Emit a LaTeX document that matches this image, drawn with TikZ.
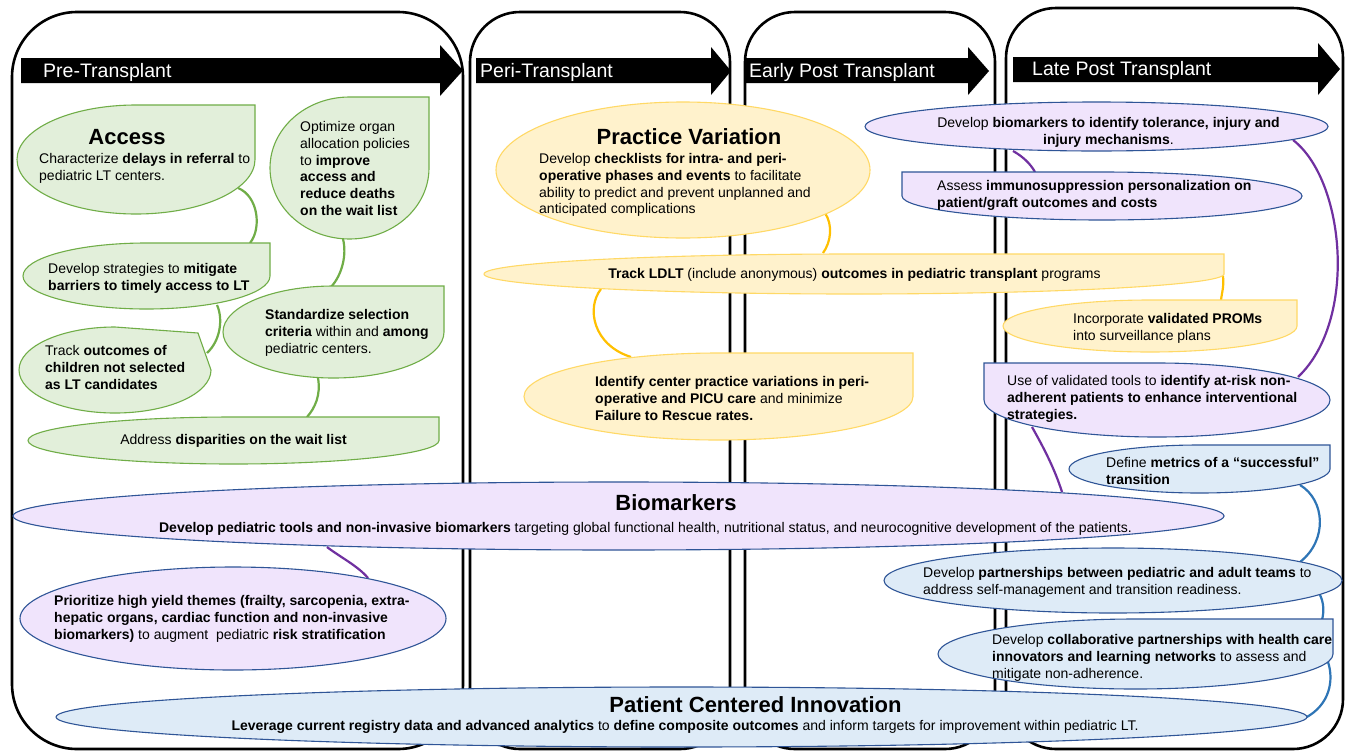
\documentclass[tikz,border=0pt]{standalone}
\usepackage{fontspec}
\setmainfont{Liberation Sans}
\definecolor{gfill}{HTML}{E2EFDA}
\definecolor{gline}{HTML}{70AD47}
\definecolor{yfill}{HTML}{FFF2CC}
\definecolor{yline}{HTML}{FFD966}
\definecolor{yconn}{HTML}{FFC000}
\definecolor{pfill}{HTML}{F0E4FC}
\definecolor{bline}{HTML}{2F5597}
\definecolor{pconn}{HTML}{7030A0}
\definecolor{bfill}{HTML}{DEEBF7}
\definecolor{bconn}{HTML}{2E75B6}
\newcommand\tstrut{\rule{0pt}{11pt}}
% teardrop with corner: style, cx, cy, rx, ry, corner
\newcommand\dropTR[6]{\path[#1] ({#2+#4},#3) arc[start angle=0,end angle=270,x radius=#4,y radius=#5] -- #6 -- cycle;}
\newcommand\dropTL[6]{\path[#1] ({#2-#4},#3) arc[start angle=180,end angle=-90,x radius=#4,y radius=#5] -- #6 -- cycle;}
\begin{document}
\begin{tikzpicture}[x=1pt,y=1pt,yscale=-1,
  panel/.style={draw=black,line width=2.6pt,rounded corners=50pt,fill=white},
  blockarrow/.style={fill=black,draw=none},
  arrowlabel/.style={text=white,font=\fontsize{19.5}{23}\selectfont,inner sep=0,anchor=base west},
  gshape/.style={fill=gfill,draw=gline,line width=1.1pt},
  yshape/.style={fill=yfill,draw=yline,line width=1.1pt},
  pshape/.style={fill=pfill,draw=bline,line width=1.1pt},
  bshape/.style={fill=bfill,draw=bline,line width=1.1pt},
  gconn/.style={draw=gline,line width=2.2pt},
  yconnect/.style={draw=yconn,line width=2.2pt},
  pconnect/.style={draw=pconn,line width=2.2pt},
  bconnect/.style={draw=bconn,line width=2.2pt},
  body/.style={inner sep=0,anchor=north west,align=left,font=\fontsize{14}{16.9}\selectfont},
  bodyc/.style={body,anchor=north,align=center},
  oneline/.style={inner sep=0,anchor=base,font=\fontsize{14}{16.9}\selectfont},
  title/.style={inner sep=0,anchor=base,font=\fontsize{22}{26}\selectfont\bfseries},
]
\useasboundingbox (0,0) rectangle (1346,750);
\fill[white] (0,0) rectangle (1346,750);

% panels
\draw[panel,rounded corners=65pt] (12,12) rectangle (463,749);
\draw[panel] (470,12) rectangle (730,749);
\draw[panel] (745,12) rectangle (995,749);
\draw[panel] (1006,8) rectangle (1343,749);

% phase arrows
\path[blockarrow] (21,58) -- (440,58) -- (440,45) -- (463,70.5) -- (440,96) -- (440,83) -- (21,83) -- cycle;
\path[blockarrow] (476,58) -- (711,58) -- (711,47) -- (731,71) -- (711,95) -- (711,83) -- (476,83) -- cycle;
\path[blockarrow] (745,58) -- (968,58) -- (968,47) -- (989,71) -- (968,95) -- (968,83) -- (745,83) -- cycle;
\path[blockarrow] (1013,57) -- (1318,57) -- (1318,43) -- (1340,69) -- (1318,95) -- (1318,82) -- (1013,82) -- cycle;
\node[arrowlabel] (lPre) at (43,77) {Pre-Transplant};
\node[arrowlabel] (lPeri) at (480,77) {Peri-Transplant};
\node[arrowlabel] (lEarly) at (749,77) {Early Post Transplant};
\node[arrowlabel] (lLate) at (1032,75) {Late Post Transplant};

% connector end points
\coordinate (g1a) at (238,188);   \coordinate (g1b) at (250,243);
\coordinate (g2a) at (343,239);   \coordinate (g2b) at (331,287);
\coordinate (g3a) at (217,305);   \coordinate (g3b) at (207,353);
\coordinate (g4a) at (318,378);   \coordinate (g4b) at (307,417);
\coordinate (y1a) at (825,213);   \coordinate (y1b) at (823,253);
\coordinate (y2a) at (601,289);   \coordinate (y2b) at (631,357);
\coordinate (y3a) at (1223,276);  \coordinate (y3b) at (1221,300);
\coordinate (p1a) at (1013,151);  \coordinate (p1b) at (1035,172);
\coordinate (p2a) at (1293,140);  \coordinate (p2b) at (1298,377);
\coordinate (p3a) at (1032,427);  \coordinate (p3b) at (1062,492);
\coordinate (p4a) at (327,547);   \coordinate (p4b) at (368,578);
\coordinate (b1a) at (1300,485);  \coordinate (b1b) at (1300,562);
\coordinate (b2a) at (1320,595);  \coordinate (b2b) at (1322,620);
\coordinate (b3a) at (1328,662);  \coordinate (b3b) at (1305,718);

% connectors
\draw[gconn] (g1a) .. controls (258,196) and (262,228) .. (g1b);
\draw[gconn] (g2a) .. controls (347,255) and (342,275) .. (g2b);
\draw[gconn] (g3a) .. controls (223,318) and (221,340) .. (g3b);
\draw[gconn] (g4a) .. controls (321,395) and (315,408) .. (g4b);
\draw[yconnect] (y1a) .. controls (833,225) and (831,242) .. (y1b);
\draw[yconnect] (y2a) .. controls (586,308) and (593,345) .. (y2b);
\draw[yconnect] (y3a) .. controls (1224,287) and (1222,292) .. (y3b);
\draw[pconnect] (p1a) .. controls (1022,156) and (1030,163) .. (p1b);
\draw[pconnect] (p2a) .. controls (1345,180) and (1358,320) .. (p2b);
\draw[pconnect] (p3a) .. controls (1045,450) and (1055,470) .. (p3b);
\draw[pconnect] (p4a) .. controls (340,557) and (358,566) .. (p4b);
\draw[bconnect] (b1a) .. controls (1325,500) and (1328,540) .. (b1b);
\draw[bconnect] (b2a) .. controls (1324,603) and (1324,612) .. (b2b);
\draw[bconnect] (b3a) .. controls (1334,680) and (1330,705) .. (b3b);

% green shapes
\dropTR{gshape}{136}{159.5}{119}{54.5}{(255,105)}
\dropTR{gshape}{349.5}{168}{79.5}{71}{(429,97)}
\dropTR{gshape}{146.5}{276}{123.5}{33}{(270,243)}
\dropTR{gshape}{115}{370}{96}{43}{(198,333)}
\dropTR{gshape}{333.5}{332}{110.5}{46}{(444,286)}
\dropTR{gshape}{233.5}{440.5}{205.5}{23.5}{(439,417)}
% yellow shapes
\path[yshape] (683,170) ellipse [x radius=187,y radius=68];
\dropTR{yshape}{854}{274}{370}{20}{(1224,254)}
\dropTR{yshape}{718.5}{396.5}{194.5}{43.5}{(913,353)}
\dropTR{yshape}{1150}{326}{147}{26}{(1297,300)}
% purple shapes
\path[pshape] (1096.5,126.5) ellipse [x radius=231.5,y radius=24.5];
\dropTL{pshape}{1102}{196}{200}{24}{(902,172)}
\dropTL{pshape}{1157}{400}{173}{37}{(984,363)}
\path[pshape] (618.5,516) ellipse [x radius=605.5,y radius=34];
\path[pshape] (233,618.5) ellipse [x radius=213,y radius=51.5];
% blue shapes
\dropTR{bshape}{1199.5}{469}{130.5}{24}{(1330,445)}
\path[bshape] (1113,580.5) ellipse [x radius=229,y radius=32.5];
\dropTR{bshape}{1135.5}{654}{197.5}{35}{(1333,619)}
\path[bshape] (681.5,717) ellipse [x radius=625.5,y radius=30];

% texts: Pre-Transplant
\node[title] (tAccess) at (127,144) {Access};
\node[body] (xAccess) at (39,152) {\tstrut Characterize \textbf{delays in referral} to\\pediatric LT centers.};
\node[body] (xOptimize) at (300,120) {\tstrut Optimize organ\\allocation policies\\to \textbf{improve}\\\textbf{access and}\\\textbf{reduce deaths}\\\textbf{on the wait list}};
\node[body] (xMitigate) at (48,262) {\tstrut Develop strategies to \textbf{mitigate}\\\textbf{barriers to timely access to LT}};
\node[body] (xTrack) at (45,344) {\tstrut Track \textbf{outcomes of}\\\textbf{children not selected}\\\textbf{as LT candidates}};
\node[body] (xStandard) at (265,308) {\tstrut\textbf{Standardize selection}\\\textbf{criteria} within and \textbf{among}\\pediatric centers.};
\node[oneline] (xAddress) at (233.5,444) {Address \textbf{disparities on the wait list}};

% texts: Peri-Transplant
\node[title] (tPractice) at (689,144) {Practice Variation};
\node[body] (xPractice) at (539,152) {\tstrut Develop \textbf{checklists for intra- and peri-}\\\textbf{operative phases and events} to facilitate\\ability to predict and prevent unplanned and\\anticipated complications};
\node[oneline] (xLDLT) at (854.5,278) {\textbf{Track LDLT} (include anonymous) \textbf{outcomes in pediatric transplant} programs};
\node[body] (xIdentify) at (595,375) {\tstrut\textbf{Identify center practice variations in peri-}\\\textbf{operative and PICU care} and minimize\\\textbf{Failure to Rescue rates.}};

% texts: Late Post Transplant
\node[bodyc] (xTolerance) at (1108.5,116.5) {\tstrut Develop \textbf{biomarkers to identify tolerance, injury and}\\\textbf{injury mechanisms}.};
\node[body] (xAssess) at (937,179) {\tstrut Assess \textbf{immunosuppression personalization on}\\\textbf{patient/graft outcomes and costs}};
\node[body] (xPROMs) at (1073,312) {\tstrut Incorporate \textbf{validated PROMs}\\into surveillance plans};
\node[body] (xAdherent) at (1007,374) {\tstrut Use of validated tools to \textbf{identify at-risk non-}\\\textbf{adherent patients to enhance interventional}\\\textbf{strategies.}};
\node[body] (xMetrics) at (1106,456) {\tstrut Define \textbf{metrics of a “successful”}\\\textbf{transition}};
\node[body] (xPartner) at (923,566) {\tstrut Develop \textbf{partnerships between pediatric and adult teams} to\\address self-management and transition readiness.};
\node[body] (xCollab) at (992,633) {\tstrut Develop \textbf{collaborative partnerships with health care}\\\textbf{innovators and learning networks} to assess and\\mitigate non-adherence.};

% texts: cross-phase bands
\node[title] (tBio) at (676,510) {Biomarkers};
\node[oneline] (xBio) at (645.5,532) {\textbf{Develop pediatric tools and non-invasive biomarkers} targeting global functional health, nutritional status, and neurocognitive development of the patients.};
\node[body] (xPrior) at (54,594) {\tstrut\textbf{Prioritize high yield themes (frailty, sarcopenia, extra-}\\\textbf{hepatic organs, cardiac function and non-invasive}\\\textbf{biomarkers)} to augment\ \ pediatric \textbf{risk stratification}};
\node[title] (tPCI) at (755.5,712) {Patient Centered Innovation};
\node[oneline] (xPCI) at (685,730.5) {\textbf{Leverage current registry data and advanced analytics} to \textbf{define composite outcomes} and inform targets for improvement within pediatric LT.};
\end{tikzpicture}
\end{document}
